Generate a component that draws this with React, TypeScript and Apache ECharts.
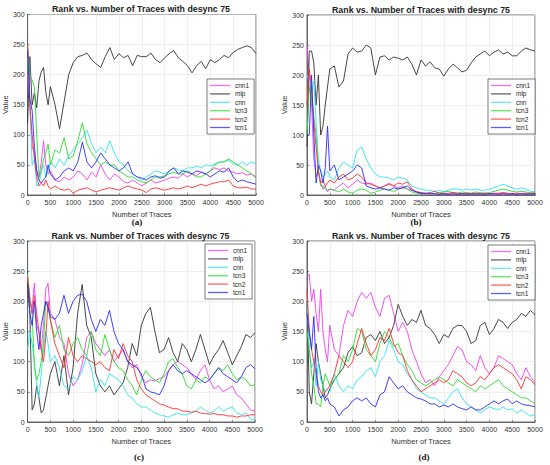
import React, { useEffect, useRef } from "react";
import * as echarts from "echarts";

// Number of traces (shared x positions)
const TRACES = [0, 50, 100, 150, 200, 250, 300, 350, 400, 450, 500,
  600, 700, 800, 900, 1000, 1100, 1200, 1300, 1400, 1500,
  1600, 1700, 1800, 1900, 2000, 2100, 2200, 2300, 2400, 2500,
  2600, 2700, 2800, 2900, 3000, 3100, 3200, 3300, 3400, 3500,
  3600, 3700, 3800, 3900, 4000, 4100, 4200, 4300, 4400, 4500,
  4600, 4700, 4800, 4900, 5000];

const SERIES_NAMES = ["cnn1", "mlp", "cnn", "tcn3", "tcn2", "tcn1"];
const X_TICKS = [0, 500, 1000, 1500, 2000, 2500, 3000, 3500, 4000, 4500, 5000];
const Y_TICKS = [0, 50, 100, 150, 200, 250, 300];
const TITLE = "Rank vs. Number of Traces with desync 75";
const PANEL_LABELS = ["(a)", "(b)", "(c)", "(d)"];

// ---- panel (a)
const A_CNN1 = [200, 150, 80, 70, 40, 30, 55, 90, 50, 35, 40,
  25, 22, 30, 25, 30, 40, 35, 25, 38, 30,
  50, 35, 25, 35, 30, 22, 20, 25, 20, 15,
  20, 25, 20, 22, 25, 28, 30, 28, 35, 30,
  35, 32, 38, 35, 40, 45, 42, 45, 40, 38,
  35, 37, 33, 35, 30];
const A_MLP = [120, 230, 150, 170, 145, 190, 205, 212, 170, 150, 180,
  150, 110, 155, 200, 220, 230, 232, 236, 225, 218,
  212, 230, 245, 225, 235, 228, 232, 215, 232, 230,
  230, 236, 225, 220, 228, 235, 240, 228, 222, 215,
  203, 215, 222, 210, 225, 220, 225, 232, 228, 237,
  242, 245, 248, 245, 235];
const A_CNN = [230, 150, 50, 60, 15, 20, 40, 50, 30, 40, 55,
  45, 60, 50, 65, 75, 85, 95, 108, 85, 70,
  80, 70, 90, 70, 55, 50, 40, 35, 30, 25,
  30, 35, 40, 38, 35, 40, 45, 42, 40, 45,
  45, 48, 45, 50, 48, 52, 55, 55, 58, 52,
  50, 55, 50, 55, 52];
const A_TCN3 = [250, 200, 190, 180, 100, 30, 40, 60, 70, 85, 50,
  75, 70, 95, 60, 65, 90, 120, 85, 70, 60,
  50, 55, 50, 50, 40, 35, 30, 30, 25, 22,
  20, 25, 30, 30, 32, 35, 38, 35, 35, 40,
  35, 30, 30, 35, 40, 50, 55, 55, 60, 55,
  50, 45, 40, 35, 28];
const A_TCN2 = [250, 150, 100, 60, 30, 15, 20, 15, 25, 15, 10,
  15, 10, 8, 10, 3, 8, 10, 12, 8, 5,
  8, 10, 12, 10, 8, 12, 15, 12, 10, 8,
  4, 10, 12, 10, 8, 10, 12, 10, 12, 15,
  12, 15, 18, 15, 18, 20, 22, 22, 25, 15,
  12, 12, 13, 10, 10];
const A_TCN1 = [240, 160, 140, 80, 40, 25, 20, 25, 30, 50, 35,
  25, 30, 40, 45, 40, 55, 88, 55, 45, 55,
  70, 60, 50, 45, 40, 45, 55, 35, 30, 28,
  25, 30, 32, 28, 30, 40, 45, 35, 40, 38,
  35, 40, 38, 35, 30, 35, 40, 38, 45, 30,
  22, 25, 22, 20, 18];

// ---- panel (b)
const B_CNN1 = [250, 200, 150, 60, 30, 40, 20, 10, 15, 5, 10,
  8, 15, 20, 12, 18, 25, 20, 18, 20, 15,
  12, 15, 20, 15, 12, 15, 10, 8, 6, 4,
  3, 2, 2, 1, 2, 1, 2, 1, 1, 2,
  1, 2, 1, 2, 2, 1, 2, 3, 2, 2,
  1, 2, 2, 1, 2];
const B_MLP = [80, 240, 240, 220, 150, 200, 100, 115, 150, 180, 210,
  215, 180, 190, 235, 245, 238, 240, 250, 245, 200,
  230, 232, 225, 230, 228, 225, 230, 218, 200, 225,
  215, 222, 212, 210, 198, 210, 218, 212, 205, 208,
  220, 230, 235, 240, 232, 238, 242, 235, 238, 232,
  232, 240, 245, 242, 240];
const B_CNN = [200, 190, 170, 190, 120, 60, 40, 30, 35, 40, 30,
  25, 45, 55, 50, 45, 75, 80, 60, 45, 35,
  30, 30, 28, 25, 30, 28, 25, 15, 12, 10,
  8, 8, 6, 8, 5, 8, 10, 10, 8, 10,
  8, 10, 8, 8, 10, 12, 15, 18, 15, 12,
  10, 12, 10, 6, 5];
const B_TCN3 = [100, 180, 160, 130, 100, 40, 15, 15, 10, 8, 10,
  8, 5, 10, 5, 3, 8, 10, 8, 3, 5,
  8, 10, 8, 6, 10, 12, 10, 5, 3, 2,
  2, 3, 2, 4, 5, 6, 4, 3, 5, 4,
  3, 5, 4, 3, 4, 6, 8, 10, 8, 6,
  5, 6, 5, 4, 5];
const B_TCN2 = [150, 210, 180, 120, 80, 40, 20, 25, 15, 20, 25,
  20, 30, 35, 25, 28, 35, 30, 20, 18, 15,
  12, 15, 18, 15, 20, 18, 22, 10, 5, 3,
  3, 4, 6, 3, 2, 3, 4, 3, 2, 3,
  2, 3, 2, 3, 2, 3, 3, 4, 3, 2,
  3, 2, 3, 2, 3];
const B_TCN1 = [100, 100, 200, 100, 20, 50, 40, 20, 45, 115, 40,
  50, 25, 30, 35, 40, 50, 45, 15, 12, 10,
  12, 10, 8, 12, 10, 12, 15, 8, 5, 3,
  2, 2, 2, 1, 2, 1, 2, 1, 2, 1,
  2, 1, 2, 1, 2, 2, 1, 2, 1, 2,
  1, 2, 1, 2, 1];

// ---- panel (c)
const C_CNN1 = [240, 200, 190, 230, 160, 150, 120, 160, 220, 230, 180,
  170, 140, 130, 80, 60, 70, 95, 140, 150, 130,
  120, 110, 120, 100, 110, 120, 100, 90, 95, 75,
  65, 70, 68, 72, 75, 85, 95, 100, 95, 90,
  80, 70, 85, 95, 70, 55, 60, 50, 55, 60,
  45, 40, 30, 20, 18];
const C_MLP = [230, 180, 20, 30, 60, 40, 15, 20, 40, 60, 80,
  100, 60, 110, 45, 90, 180, 228, 160, 140, 80,
  60, 50, 60, 45, 55, 65, 90, 130, 110, 160,
  180, 190, 150, 115, 120, 140, 115, 100, 130, 120,
  100, 120, 145, 120, 95, 110, 120, 135, 115, 95,
  110, 125, 145, 140, 148];
const C_CNN = [120, 150, 130, 100, 60, 40, 80, 120, 150, 130, 100,
  110, 90, 60, 55, 75, 70, 85, 110, 90, 50,
  70, 60, 80, 75, 70, 60, 45, 40, 30, 25,
  25, 20, 15, 12, 10, 8, 12, 15, 12, 12,
  15, 18, 25, 20, 15, 18, 25, 18, 22, 25,
  15, 12, 15, 5, 3];
const C_TCN3 = [245, 210, 180, 90, 70, 80, 100, 130, 200, 190, 170,
  140, 160, 120, 110, 130, 140, 120, 110, 150, 120,
  110, 145, 120, 100, 90, 85, 70, 60, 45, 70,
  85, 75, 70, 65, 80, 100, 105, 90, 80, 60,
  55, 70, 65, 75, 70, 80, 90, 85, 95, 80,
  70, 75, 70, 60, 62];
const C_TCN2 = [240, 200, 180, 210, 180, 150, 120, 100, 140, 200, 170,
  130, 110, 90, 140, 110, 100, 110, 105, 100, 95,
  100, 90, 85, 120, 105, 130, 110, 100, 70, 55,
  45, 40, 35, 30, 28, 25, 22, 22, 18, 18,
  16, 18, 15, 14, 13, 14, 12, 12, 10, 10,
  8, 10, 10, 12, 12];
const C_TCN1 = [230, 180, 160, 200, 150, 120, 160, 180, 200, 190, 175,
  170, 180, 210, 180, 200, 210, 212, 200, 170, 150,
  170, 160, 185, 150, 130, 120, 100, 95, 90, 80,
  55, 50, 48, 45, 60, 85, 95, 85, 80, 85,
  80, 75, 70, 65, 70, 80, 90, 80, 75, 70,
  65, 75, 90, 95, 88];

// ---- panel (d)
const D_CNN1 = [240, 245, 200, 220, 180, 150, 220, 150, 120, 100, 160,
  120, 110, 160, 185, 175, 200, 215, 205, 215, 190,
  175, 205, 210, 180, 150, 165, 150, 120, 100, 80,
  65, 70, 60, 75, 85, 95, 110, 125, 120, 100,
  95, 85, 110, 90, 80, 90, 110, 105, 100, 95,
  80, 70, 90, 75, 65];
const D_MLP = [200, 50, 30, 80, 130, 100, 80, 60, 40, 45, 55,
  70, 80, 90, 115, 125, 110, 115, 140, 145, 135,
  150, 130, 140, 160, 195, 175, 160, 170, 165, 185,
  160, 155, 145, 130, 145, 140, 155, 160, 160, 150,
  130, 135, 160, 165, 145, 155, 170, 165, 155, 165,
  170, 180, 175, 185, 178];
const D_CNN = [200, 120, 90, 100, 60, 100, 70, 60, 50, 55, 50,
  80, 60, 50, 60, 55, 70, 75, 85, 90, 75,
  100, 110, 135, 120, 100, 95, 80, 70, 55, 50,
  45, 40, 40, 35, 30, 40, 50, 55, 40, 30,
  25, 20, 15, 20, 25, 22, 20, 25, 20, 22,
  15, 20, 15, 10, 12];
const D_TCN3 = [150, 120, 80, 60, 30, 30, 25, 60, 80, 70, 60,
  70, 80, 110, 100, 120, 155, 150, 120, 110, 100,
  130, 150, 140, 125, 130, 110, 95, 85, 70, 65,
  60, 65, 70, 75, 70, 65, 60, 70, 65, 60,
  55, 50, 60, 55, 60, 65, 70, 60, 55, 50,
  45, 40, 40, 35, 30];
const D_TCN2 = [220, 150, 120, 100, 80, 60, 50, 45, 50, 55, 60,
  80, 110, 100, 90, 100, 130, 155, 130, 110, 120,
  140, 135, 155, 130, 115, 110, 85, 70, 60, 50,
  55, 60, 65, 70, 65, 70, 85, 80, 75, 65,
  60, 65, 75, 70, 80, 90, 95, 90, 85, 80,
  70, 55, 75, 70, 62];
const D_TCN1 = [180, 150, 120, 175, 90, 50, 40, 45, 35, 40, 30,
  25, 10, 20, 25, 35, 40, 35, 40, 30, 25,
  45, 50, 75, 65, 55, 60, 50, 45, 40, 38,
  35, 30, 30, 25, 28, 25, 30, 25, 22, 20,
  25, 20, 20, 25, 30, 35, 30, 35, 38, 30,
  35, 30, 28, 27, 25];

const PANEL_DATA = [
  [A_CNN1, A_MLP, A_CNN, A_TCN3, A_TCN2, A_TCN1],
  [B_CNN1, B_MLP, B_CNN, B_TCN3, B_TCN2, B_TCN1],
  [C_CNN1, C_MLP, C_CNN, C_TCN3, C_TCN2, C_TCN1],
  [D_CNN1, D_MLP, D_CNN, D_TCN3, D_TCN2, D_TCN1],
];

// ---- layout / style (not data)
const COLORS = ["#f23cf2", "#333333", "#2ee4ee", "#2ddc2d", "#ff3030", "#2a2aff"];
const GRIDS = [
  { left: 26, top: 14.5, width: 230, height: 180.5 },
  { left: 307, top: 15, width: 228, height: 180 },
  { left: 26, top: 241, width: 229, height: 181 },
  { left: 307, top: 241, width: 228, height: 181 },
];
const LEGEND_POS = [
  { left: 207, top: 79 },
  { left: 488, top: 79 },
  { left: 205, top: 244 },
  { left: 488, top: 245 },
];
const LABEL_POS = [
  { x: 137, y: 222 },
  { x: 416, y: 222 },
  { x: 139, y: 457 },
  { x: 424, y: 457 },
];
const FONT = "'Liberation Sans', Arial, Helvetica, sans-serif";

function buildOption() {
  const grid = GRIDS.map((g) => ({
    ...g,
    show: true,
    borderColor: "#4a4a4a",
    borderWidth: 0.8,
    backgroundColor: "#ffffff",
    containLabel: false,
  }));
  const xAxis = GRIDS.map((_, i) => ({
    type: "value",
    gridIndex: i,
    min: X_TICKS[0],
    max: X_TICKS[X_TICKS.length - 1],
    interval: X_TICKS[1] - X_TICKS[0],
    name: "Number of Traces",
    nameLocation: "middle",
    nameGap: 15,
    nameTextStyle: { fontSize: 7.5, color: "#333", fontFamily: FONT },
    axisLine: { show: true, lineStyle: { color: "#4a4a4a", width: 0.8 } },
    axisTick: { show: true, inside: true, length: 2, lineStyle: { color: "#4a4a4a", width: 0.6 } },
    axisLabel: {
      fontSize: 7,
      color: "#333",
      margin: 4,
      fontFamily: FONT,
      formatter: (v: number) => String(v),
    },
    splitLine: { show: true, lineStyle: { color: "#e4e4e4", width: 0.6 } },
  }));
  const yAxis = GRIDS.map((_, i) => ({
    type: "value",
    gridIndex: i,
    min: Y_TICKS[0],
    max: Y_TICKS[Y_TICKS.length - 1],
    interval: Y_TICKS[1] - Y_TICKS[0],
    name: "Value",
    nameLocation: "middle",
    nameGap: 18,
    nameTextStyle: { fontSize: 7.5, color: "#333", fontFamily: FONT },
    axisLine: { show: true, lineStyle: { color: "#4a4a4a", width: 0.8 } },
    axisTick: { show: true, inside: true, length: 2, lineStyle: { color: "#4a4a4a", width: 0.6 } },
    axisLabel: { fontSize: 7, color: "#333", margin: 3, fontFamily: FONT },
    splitLine: { show: true, lineStyle: { color: "#e4e4e4", width: 0.6 } },
  }));
  const series: any[] = [];
  PANEL_DATA.forEach((panel, i) => {
    panel.forEach((vals, k) => {
      series.push({
        type: "line",
        name: SERIES_NAMES[k],
        xAxisIndex: i,
        yAxisIndex: i,
        data: TRACES.map((t, j) => [t, vals[j]]),
        showSymbol: false,
        symbol: "none",
        lineStyle: { width: 0.9, color: COLORS[k] },
        itemStyle: { color: COLORS[k] },
        silent: true,
      });
    });
  });
  const legend = LEGEND_POS.map((p) => ({
    ...p,
    orient: "vertical",
    data: SERIES_NAMES,
    selectedMode: false,
    icon: "rect",
    backgroundColor: "#ffffff",
    borderColor: "#444",
    borderWidth: 0.7,
    borderRadius: 0,
    padding: [3, 5, 3, 3],
    itemGap: 1.4,
    itemWidth: 20,
    itemHeight: 1.3,
    itemStyle: { opacity: 0.75 },
    textStyle: { fontSize: 6.5, color: "#222", fontFamily: FONT, padding: 0, lineHeight: 6.5 },
  }));
  const title = GRIDS.map((g) => ({
    text: TITLE,
    left: g.left + g.width / 2,
    top: g.top - 10,
    textAlign: "center",
    padding: 0,
    textStyle: { fontSize: 8.8, fontWeight: "bold", color: "#222", fontFamily: FONT },
  }));
  const graphic = PANEL_LABELS.map((t, i) => ({
    type: "text",
    x: LABEL_POS[i].x,
    y: LABEL_POS[i].y,
    style: {
      text: t,
      fill: "#111",
      fontSize: 9,
      fontWeight: "bold",
      fontFamily: "'Liberation Serif', 'Times New Roman', serif",
      align: "center",
      verticalAlign: "middle",
    },
  }));
  return {
    animation: false,
    backgroundColor: "#ffffff",
    grid,
    xAxis,
    yAxis,
    series,
    legend,
    title,
    graphic,
  };
}

export default function App() {
  const ref = useRef<HTMLDivElement | null>(null);
  useEffect(() => {
    document.body.style.margin = "0";
    if (!ref.current) return;
    const chart = echarts.init(ref.current, undefined, { renderer: "svg" });
    chart.setOption(buildOption() as any);
    return () => chart.dispose();
  }, []);
  return <div ref={ref} style={{ width: 550, height: 465 }} />;
}
